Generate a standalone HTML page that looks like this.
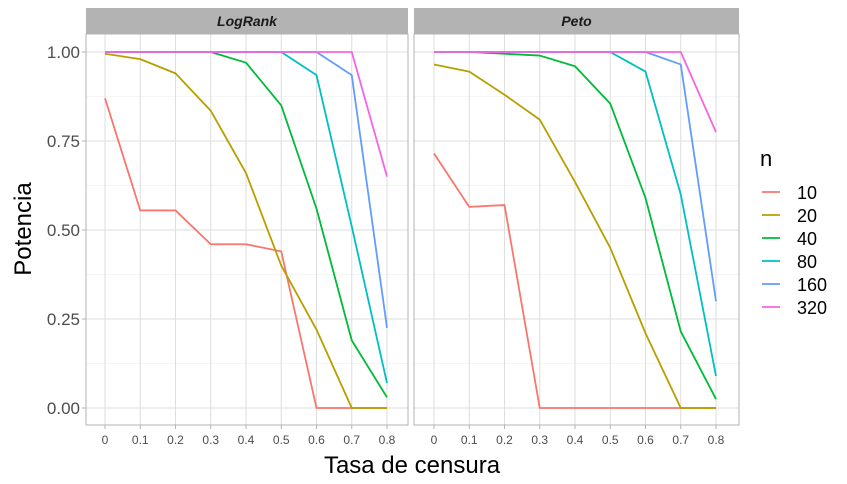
<!DOCTYPE html>
<html><head><meta charset="utf-8"><style>
body{margin:0;background:#fff}
svg{display:block;font-family:"Liberation Sans",sans-serif}
</style></head><body>
<svg id="c" width="847" height="484" viewBox="0 0 847 484"></svg>
<script>
const xVals=[0,0.1,0.2,0.3,0.4,0.5,0.6,0.7,0.8];
const xTicks=["0","0.1","0.2","0.3","0.4","0.5","0.6","0.7","0.8"];
const yTicks=[0,0.25,0.5,0.75,1];
const yLabels=["0.00","0.25","0.50","0.75","1.00"];
const groups=["10","20","40","80","160","320"];
const colors=["#F8766D","#B79F00","#00BA38","#00BFC4","#619CFF","#F564E3"];
const panels=["LogRank","Peto"];
const logrank10=[0.87,0.555,0.555,0.46,0.46,0.44,0,0,0];
const logrank20=[0.995,0.98,0.94,0.835,0.66,0.40,0.22,0,0];
const logrank40=[1,1,1,1,0.97,0.85,0.56,0.19,0.03];
const logrank80=[1,1,1,1,1,1,0.935,0.51,0.07];
const logrank160=[1,1,1,1,1,1,1,0.935,0.225];
const logrank320=[1,1,1,1,1,1,1,1,0.65];
const peto10=[0.715,0.565,0.57,0,0,0,0,0,0];
const peto20=[0.965,0.945,0.88,0.81,0.635,0.45,0.21,0,0];
const peto40=[1,1,0.995,0.99,0.96,0.855,0.59,0.215,0.025];
const peto80=[1,1,1,1,1,1,0.945,0.60,0.09];
const peto160=[1,1,1,1,1,1,1,0.965,0.30];
const peto320=[1,1,1,1,1,1,1,1,0.775];
const series=[[logrank10,logrank20,logrank40,logrank80,logrank160,logrank320],[peto10,peto20,peto40,peto80,peto160,peto320]];
const NS="http://www.w3.org/2000/svg";
const svg=document.getElementById('c');
function mk(t,a,p){const e=document.createElementNS(NS,t);for(const k in a)e.setAttribute(k,a[k]);(p||svg).appendChild(e);return e;}
const pxL=[86,414],pwA=[322,325],offA=[19,20],plotTop=34,plotBot=425;
const yS=v=>408-v*356;
panels.forEach((name,pi)=>{
  const x0=pxL[pi],pw=pwA[pi];
  const xS=v=>x0+offA[pi]+v/0.8*282;
  const g=mk('g',{});
  
  
  const strip=mk('rect',{x:x0,y:8,width:pw,height:26,fill:'#b3b3b3'},g);
  
  
  const st=mk('text',{x:x0+pw/2,y:26,'text-anchor':'middle','font-size':14,'font-weight':'bold','font-style':'italic',fill:'#1a1a1a'},g);
  st.textContent=name;
  
  
  for(let i=0;i<4;i++){const v=yTicks[i]+0.125;mk('line',{x1:x0,x2:x0+pw,y1:yS(v),y2:yS(v),stroke:'#ebebeb','stroke-width':0.6},g);}
  yTicks.forEach(v=>mk('line',{x1:x0,x2:x0+pw,y1:yS(v),y2:yS(v),stroke:'#dedede','stroke-width':1},g));
  xVals.forEach(v=>mk('line',{x1:xS(v),x2:xS(v),y1:plotTop,y2:plotBot,stroke:'#dedede','stroke-width':1},g));
  series[pi].forEach((d,si)=>{
    const pl=mk('polyline',{points:d.map((v,i)=>xS(xVals[i])+','+yS(v)).join(' '),fill:'none',stroke:colors[si],'stroke-width':1.8,'stroke-linejoin':'round'},g);
    
    
  });
  mk('rect',{x:x0,y:plotTop,width:pw,height:plotBot-plotTop,fill:'none',stroke:'#b3b3b3','stroke-width':1},g);
  xVals.forEach((v,i)=>{
    mk('line',{x1:xS(v),x2:xS(v),y1:plotBot,y2:plotBot+4,stroke:'#b3b3b3'},g);
    const t=mk('text',{x:xS(v),y:444,'text-anchor':'middle','font-size':12,fill:'#4d4d4d'},g);
    t.textContent=xTicks[i];
    
    
  });
  if(pi===0){
    yTicks.forEach((v,i)=>{
      mk('line',{x1:x0-4,x2:x0,y1:yS(v),y2:yS(v),stroke:'#b3b3b3'},g);
      const t=mk('text',{x:80,y:yS(v)+6,'text-anchor':'end','font-size':17,fill:'#4d4d4d'},g);
      t.textContent=yLabels[i];
      
      
    });
  }
});
const yt=mk('text',{x:0,y:0,transform:'translate(31,229) rotate(-90)','text-anchor':'middle','font-size':24,fill:'#000'});
yt.textContent='Potencia';


const xt=mk('text',{x:412,y:473,'text-anchor':'middle','font-size':24,fill:'#000'});
xt.textContent='Tasa de censura';


const lt=mk('text',{x:760,y:166,'font-size':22,fill:'#000'});
lt.textContent='n';


groups.forEach((gname,i)=>{
  const yy=192+i*23;
  const lg=mk('g',{});
  
  
  mk('line',{x1:762,x2:780,y1:yy,y2:yy,stroke:colors[i],'stroke-width':1.8},lg);
  const t=mk('text',{x:797,y:yy+7,'font-size':18,fill:'#000'},lg);
  t.textContent=gname;
});
</script>
</body></html>
